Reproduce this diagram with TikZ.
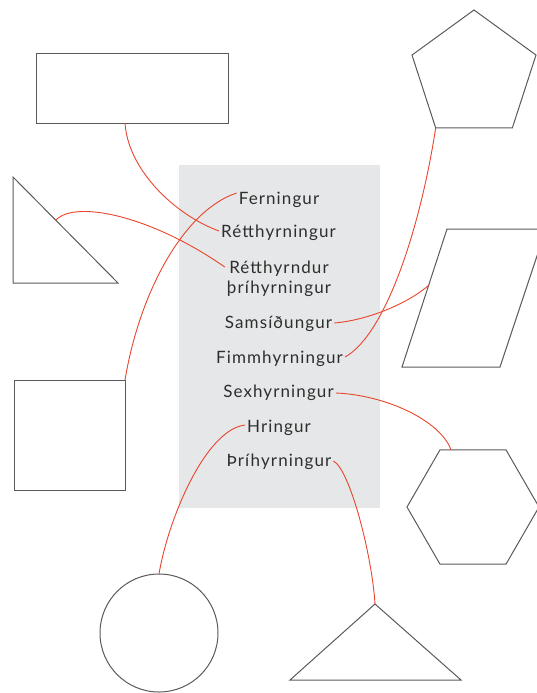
\documentclass[tikz,border=0pt]{standalone}
\usepackage{fontspec}
\setmainfont{Lato}[LetterSpace=6.5]
\usetikzlibrary{shapes.geometric,calc}
\definecolor{linkred}{HTML}{E8452C}
\definecolor{panel}{HTML}{E6E7E8}
\definecolor{edgegray}{HTML}{5A5A5A}
\definecolor{ink}{HTML}{2E2E2E}
\begin{document}
\begin{tikzpicture}[x=1pt,y=-1pt,
  shapeline/.style={draw=edgegray,line width=1pt,line join=miter,inner sep=0pt,outer sep=0pt},
  linkline/.style={draw=linkred,line width=0.9pt},
  lbl/.style={font=\fontsize{17}{20}\selectfont,text=ink,anchor=base,inner sep=2pt,align=center}]
\useasboundingbox (0,0) rectangle (537,693);
\begin{scope}
\clip (0,0) rectangle (537,693);
% panel
\fill[panel] (179,165) rectangle (380,508);
% shapes
\node[shapeline, rectangle, minimum width=192pt, minimum height=69pt] (rect) at (132,88.5) {};
\node[shapeline, rectangle, minimum width=111pt, minimum height=110pt] (sq) at (69.5,435) {};
\node[shapeline, circle, minimum size=118pt] (circ) at (159,633) {};
\node[shapeline, regular polygon, regular polygon sides=5, minimum size=130.4pt] (pent) at (474,75.2) {};
\node[shapeline, regular polygon, regular polygon sides=6, minimum size=132pt] (hex) at (473,507) {};
\draw[shapeline] (13,177) -- (13,283) -- (118,283) -- cycle;
\draw[shapeline] (375,604) -- (461,680) -- (290,680) -- cycle;
\draw[shapeline] (447,229) -- (546,229) -- (500,367) -- (402,367) -- cycle;
% connection points on drawn shapes
\coordinate (rectpt) at ($(rect.south)+(-7,0)$);
\coordinate (tript) at (56,220);
\coordinate (parpt) at (429,285);
\coordinate (hexpt) at ($(hex.north)+(-22,0)$);
\coordinate (apex) at (375,604);
% labels
\node[lbl] (fer) at (279,204) {Ferningur};
\node[lbl] (ret) at (278.5,237) {Rétthyrningur};
\node[lbl] (rtd) at (279,293) {Rétthyrndur\\þríhyrningur};
\node[lbl] (sam) at (278.5,328) {Samsíðungur};
\node[lbl] (fim) at (279.5,363) {Fimmhyrningur};
\node[lbl] (sex) at (278.5,397) {Sexhyrningur};
\node[lbl] (hri) at (279,432) {Hringur};
\node[lbl] (thr) at (279,466) {Þríhyrningur};
% connectors
\draw[linkline] (rectpt) .. controls (128,170) and (175,215) .. ([yshift=6pt]ret.base west);
\draw[linkline] (tript) .. controls (75,200) and (150,215) .. ([yshift=26pt]rtd.base west);
\draw[linkline] (sq.north east) .. controls (140,290) and (185,210) .. ([yshift=11pt]fer.base west);
\draw[linkline] ([yshift=5pt]sam.base east) .. controls (370,320) and (410,302) .. (parpt);
\draw[linkline] ([yshift=6pt]fim.base east) .. controls (385,335) and (420,230) .. (pent.corner 3);
\draw[linkline] ([yshift=4pt]sex.base east) .. controls (385,395) and (440,420) .. (hexpt);
\draw[linkline] ([yshift=7pt]hri.base west) .. controls (205,430) and (168,520) .. (circ.north);
\draw[linkline] ([yshift=5pt]thr.base east) .. controls (350,470) and (372,555) .. (apex);
\end{scope}
\end{tikzpicture}
\end{document}
